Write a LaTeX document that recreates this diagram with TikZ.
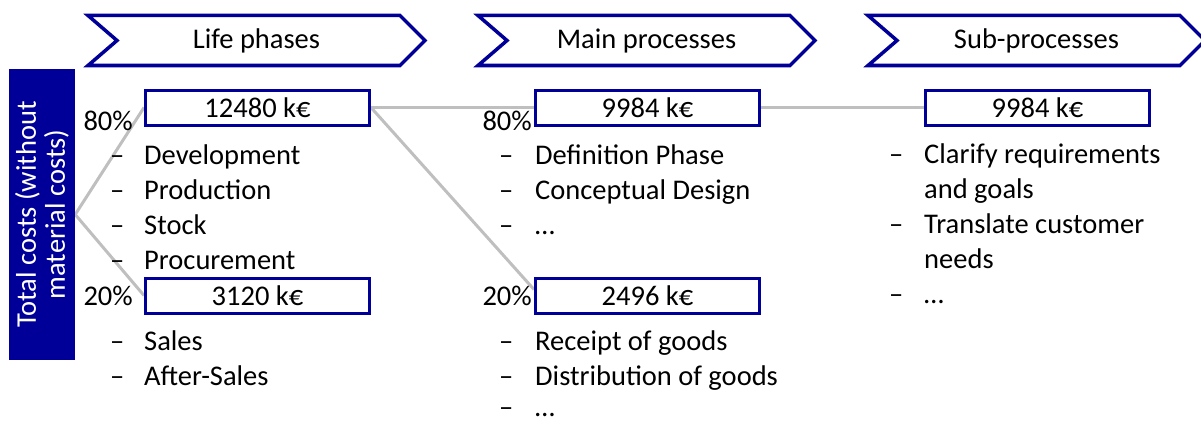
\documentclass[tikz,border=0pt]{standalone}
\usepackage{fontspec}
\setmainfont{Carlito}
\definecolor{navy}{HTML}{000099}
\definecolor{connector}{HTML}{BFBFBF}
\pgfdeclarelayer{background}
\pgfsetlayers{background,main}
\begin{document}
\begin{tikzpicture}[x=1pt,y=-1pt,
  every node/.style={font=\fontsize{28.5}{35}\selectfont, inner sep=0pt},
  phase/.style={draw=navy, line width=3.5pt, fill=white, line join=miter},
  valuebox/.style={draw=navy, line width=3pt, fill=white,
    minimum width=224pt, minimum height=35pt},
  link/.style={draw=connector, line width=3pt},
  pct/.style={anchor=base east},
  entry/.style={anchor=base west},
  total/.style={fill=navy, text=white, align=center, rotate=90,
    minimum width=291pt, minimum height=66pt,
    font=\fontsize{28.5}{29}\selectfont}
]
\useasboundingbox (0,0) rectangle (1201,420);
\clip (0,0) rectangle (1201,420);

% column headers (chevrons)
\foreach \x/\name/\label in {86/h1/Life phases, 476/h2/Main processes, 866/h3/Sub-processes}{
  \draw[phase] (\x+2,15.5) -- (\x+314,15.5) -- (\x+339,40.5) -- (\x+314,65.5)
    -- (\x+2,65.5) -- (\x+31,40.5) -- cycle;
  \node (\name) at (\x+170.5,40.5) {\label};
}

% total costs
\node[total] (total) at (42,214.5) {Total costs (without\\material costs)};

% value boxes
\node[valuebox] (lp1) at (257.5,107.5) {12480 k€};
\node[valuebox] (lp2) at (257.5,295.5) {3120 k€};
\node[valuebox] (mp1) at (647.5,107.5) {9984 k€};
\node[valuebox] (mp2) at (647.5,295.5) {2496 k€};
\node[valuebox] (sp1) at (1037.5,107.5) {9984 k€};

% connectors, kept behind the boxes
\begin{pgfonlayer}{background}
  \draw[link] (total.south) -- (lp1.west);
  \draw[link] (total.south) -- (lp2.west);
  \draw[link] (lp1.east) -- (mp1.west);
  \draw[link] (lp1.east) -- ([yshift=6pt]mp2.west);
  \draw[link] (mp1.east) -- (sp1.west);
\end{pgfonlayer}

% shares
\node[pct] (p1) at (133,130) {80\%};
\node[pct] (p2) at (133,305) {20\%};
\node[pct] (p3) at (532,130) {80\%};
\node[pct] (p4) at (532,305) {20\%};

% item lists
\foreach \d/\t [count=\i from 0] in {–/Development, –/Production, –/Stock, –/Procurement}
  \node[entry] (a\i) at (110,164+35*\i) {\makebox[34pt][l]{\d}\t};
\foreach \d/\t [count=\i from 0] in {–/Sales, –/After-Sales}
  \node[entry] (b\i) at (110,350+35*\i) {\makebox[34pt][l]{\d}\t};
\foreach \d/\t [count=\i from 0] in {–/Definition Phase, –/Conceptual Design, –/…}
  \node[entry] (c\i) at (499,164+35*\i) {\makebox[36pt][l]{\d}\t};
\foreach \d/\t [count=\i from 0] in {–/Receipt of goods, –/Distribution of goods}
  \node[entry] (d\i) at (499,350+35*\i) {\makebox[36pt][l]{\d}\t};
\node[entry] (d2) at (499,416) {\makebox[36pt][l]{–}…};
\foreach \d/\t [count=\i from 0] in {–/Clarify requirements, /and goals, –/Translate customer, /needs, –/…}
  \node[entry] (e\i) at (889,163+35*\i) {\makebox[35pt][l]{\d}\t};
\end{tikzpicture}
\end{document}
